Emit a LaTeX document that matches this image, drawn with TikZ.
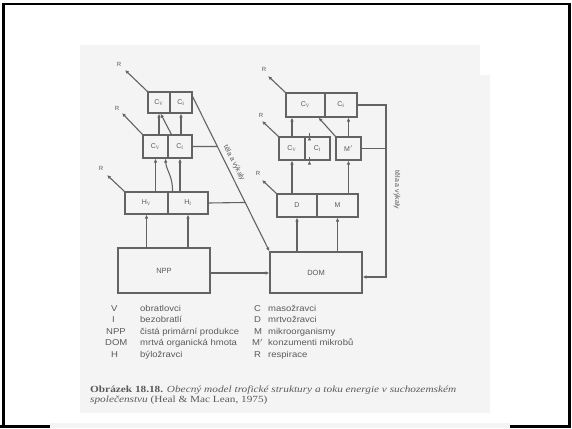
\documentclass[tikz,border=0pt]{standalone}
\usepackage{fontspec}
\usepackage{graphicx}
\setmainfont{Liberation Serif}
\setsansfont{Liberation Sans}
\usetikzlibrary{arrows.meta,calc}
\definecolor{ink}{HTML}{636363}
\definecolor{txt}{HTML}{5A5A5A}
\definecolor{page}{HTML}{F4F4F4}
\newcommand{\legx}[1]{\scalebox{1.12}[1]{#1}}
\newcommand{\capx}[1]{\scalebox{1.2}[1]{#1}}
\begin{document}
\begin{tikzpicture}[x=1pt,y=-1pt,
  half/.style={draw=ink,line width=1.1pt,inner sep=0pt,font=\sffamily\fontsize{7}{8}\selectfont,text=txt},
  bigbox/.style={draw=ink,line width=1.1pt,inner sep=0pt,font=\sffamily\fontsize{7.5}{8}\selectfont,text=txt},
  arr/.style={draw=ink,line width=1.1pt,-{Latex[length=4pt,width=3.5pt]}},
  ln/.style={draw=ink,line width=1.1pt},
  rlab/.style={font=\sffamily\fontsize{6}{6}\selectfont,text=txt,inner sep=0pt},
  legsym/.style={anchor=base west,font=\sffamily\fontsize{8.5}{9}\selectfont,text=txt,inner sep=0pt},
  captxt/.style={anchor=base west,font=\fontsize{9.4}{10}\selectfont,text=txt,inner sep=0pt},
  vlab/.style={font=\sffamily\fontsize{7}{8}\selectfont,text=txt,inner sep=0pt}]
\useasboundingbox (0,0) rectangle (572,428);
% page background and frame
\fill[white] (0,0) rectangle (572,428);
\fill[page] (80,45) rectangle (480,80);
\fill[page] (80,75) rectangle (490,413);
\draw[black,line width=2.6pt] (3.5,428) -- (3.5,4) -- (569.5,4) -- (569.5,426.5) -- (0,426.5);
\fill[page] (50,423) rectangle (510,428);
% ---------- left column ----------
\node[half,minimum width=22pt,minimum height=21pt] (CTa) at (159,102.5) {C$_\mathrm{V}$};
\node[half,minimum width=22pt,minimum height=21pt] (CTb) at (181,102.5) {C$_\mathrm{I}$};
\node[half,minimum width=25pt,minimum height=23pt] (CMa) at (155.5,146.5) {C$_\mathrm{V}$};
\node[half,minimum width=24pt,minimum height=23pt] (CMb) at (180,146.5) {C$_\mathrm{I}$};
\node[half,minimum width=43pt,minimum height=22pt] (Ha) at (146.5,203) {H$_\mathrm{V}$};
\node[half,minimum width=40pt,minimum height=22pt] (Hb) at (188,203) {H$_\mathrm{I}$};
\node[bigbox,minimum width=92pt,minimum height=45pt] (NPP) at (164,270.5) {NPP};
\node[bigbox,minimum width=92pt,minimum height=41pt] (DOM) at (316,272.5) {DOM};
% upward flows left
\draw[arr] (Ha.south |- NPP.north) -- (Ha.south);
\draw[arr] (Hb.south |- NPP.north) -- (Hb.south);
\draw[arr] (CMa.south |- Ha.north) -- (CMa.south);
\draw[arr] (CMb.south |- Hb.north) -- (CMb.south);
\draw[arr] ($(Hb.north west)+(5,0)$) .. controls (173,176) and (166,170) .. ($(CMa.south east)+(-3,0)$);
\draw[arr] (CTa.south |- CMa.north) -- (CTa.south);
\draw[arr] (CTb.south |- CMb.north) -- (CTb.south);
\draw[arr] ($(CMb.north west)+(4,0)$) -- ($(CTa.south east)+(-10,0)$);
% respiration left
\coordinate (r1) at (125,70);
\coordinate (r2) at (122,113);
\coordinate (r3) at (107,175);
\draw[arr] (CTa.north west) -- (r1);
\draw[arr] (CMa.north west) -- (r2);
\draw[arr] (Ha.north west) -- (r3);
\node[rlab] (R1) at (119,64) {R};
\node[rlab] (R2) at (117,108) {R};
\node[rlab] (R3) at (101,168) {R};
% dead bodies left
\coordinate (d1) at ($(CTb.north east)+(0,5)$);
\draw[arr] (d1) -- (DOM.north west);
\draw[ln] (CMb.east) -- ($(d1)!0.3226!(DOM.north west)$);
\draw[ln] (Hb.east) -- ($(d1)!0.684!(DOM.north west)$);
\node[vlab,rotate=-63] (tl) at (234,163) {těla a výkaly};
% NPP -> DOM
\draw[arr] (NPP.east |- 0,273) -- (DOM.west |- 0,273);
% ---------- right column ----------
\node[half,minimum width=39pt,minimum height=24pt] (RTa) at (305.5,105) {C$_\mathrm{V}$};
\node[half,minimum width=32pt,minimum height=24pt] (RTb) at (341,105) {C$_\mathrm{I}$};
\node[half,minimum width=26pt,minimum height=23pt] (RCa) at (292,148.5) {C$_\mathrm{V}$};
\node[half,minimum width=25pt,minimum height=23pt] (RCb) at (317.5,148.5) {C$_\mathrm{I}$};
\node[half,minimum width=25pt,minimum height=23pt] (Mp) at (348.5,148.5) {M$'$};
\node[half,minimum width=40pt,minimum height=23pt] (DMa) at (297,205.5) {D};
\node[half,minimum width=41pt,minimum height=23pt] (DMb) at (337.5,205.5) {M};
% upward flows right
\draw[arr] (DMa.south |- DOM.north) -- (DMa.south);
\draw[arr] (DMb.south |- DOM.north) -- (DMb.south);
\draw[arr] (RCa.south |- DMa.north) -- (RCa.south);
\draw[arr] ($(RCb.south west)+(5,0)$ |- DMa.north) -- ($(RCb.south west)+(5,0)$);
\draw[arr] (Mp.south |- DMb.north) -- (Mp.south);
\draw[arr] (RCa.north) -- (RCa.north |- RTa.south);
\draw[arr] ($(RCb.north west)+(5,0)$) -- ($(RCb.north west)+(5,0)$ |- RTa.south);
\draw[arr] (Mp.north) -- (Mp.north |- RTb.south);
\draw[arr] (Mp.north west) -- ($(RTa.south east)+(-7,0)$);
% respiration right
\coordinate (r4) at (268,76);
\coordinate (r5) at (262,121);
\coordinate (r6) at (262,180);
\draw[arr] (RTa.north west) -- (r4);
\draw[arr] (RCa.north west) -- (r5);
\draw[arr] (DMa.north west) -- (r6);
\node[rlab] (R4) at (264,69) {R};
\node[rlab] (R5) at (261,115) {R};
\node[rlab] (R6) at (258,173) {R};
% dead bodies right
\coordinate (v1) at (386,105);
\coordinate (v2) at (386,277);
\coordinate (v3) at (386,148.5);
\draw[arr] (RTb.east) -- (v1) -- (v2) -- (DOM.east |- v2);
\draw[ln] (Mp.east) -- (v3);
\node[vlab,rotate=-90] (tr) at (397,190) {těla a výkaly};
% ---------- legend ----------
\node[legsym] (lv) at (111,311) {\legx{V}};
\node[legsym] (li) at (112,322) {\legx{I}};
\node[legsym] (ln1) at (106,334) {\legx{NPP}};
\node[legsym] (ld) at (105,345.5) {\legx{DOM}};
\node[legsym] (lh) at (111,357) {\legx{H}};
\node[legsym] (tv) at (140,311) {\legx{obratlovci}};
\node[legsym] (ti) at (140,322) {\legx{bezobratlí}};
\node[legsym] (tn) at (140,334) {\legx{čistá primární produkce}};
\node[legsym] (td) at (140,345.5) {\legx{mrtvá organická hmota}};
\node[legsym] (th) at (140,357) {\legx{býložravci}};
\node[legsym] (lc) at (254,311) {\legx{C}};
\node[legsym] (ldd) at (254,322) {\legx{D}};
\node[legsym] (lm) at (254,334) {\legx{M}};
\node[legsym] (lmp) at (252,345.5) {\legx{M$'$}};
\node[legsym] (lr) at (254,357) {\legx{R}};
\node[legsym] (tc) at (268,311) {\legx{masožravci}};
\node[legsym] (tdd) at (268,322) {\legx{mrtvožravci}};
\node[legsym] (tm) at (268,334) {\legx{mikroorganismy}};
\node[legsym] (tmp) at (268,345.5) {\legx{konzumenti mikrobů}};
\node[legsym] (tr2) at (268,357) {\legx{respirace}};
% ---------- caption ----------
\node[captxt] (c1) at (90,392) {\capx{\textbf{Obrázek 18.18.} \textit{Obecný model trofické struktury a toku energie v suchozemském}}};
\node[captxt] (c2) at (90,402) {\capx{\textit{společenstvu} (Heal \& Mac Lean, 1975)}};
\end{tikzpicture}
\end{document}
